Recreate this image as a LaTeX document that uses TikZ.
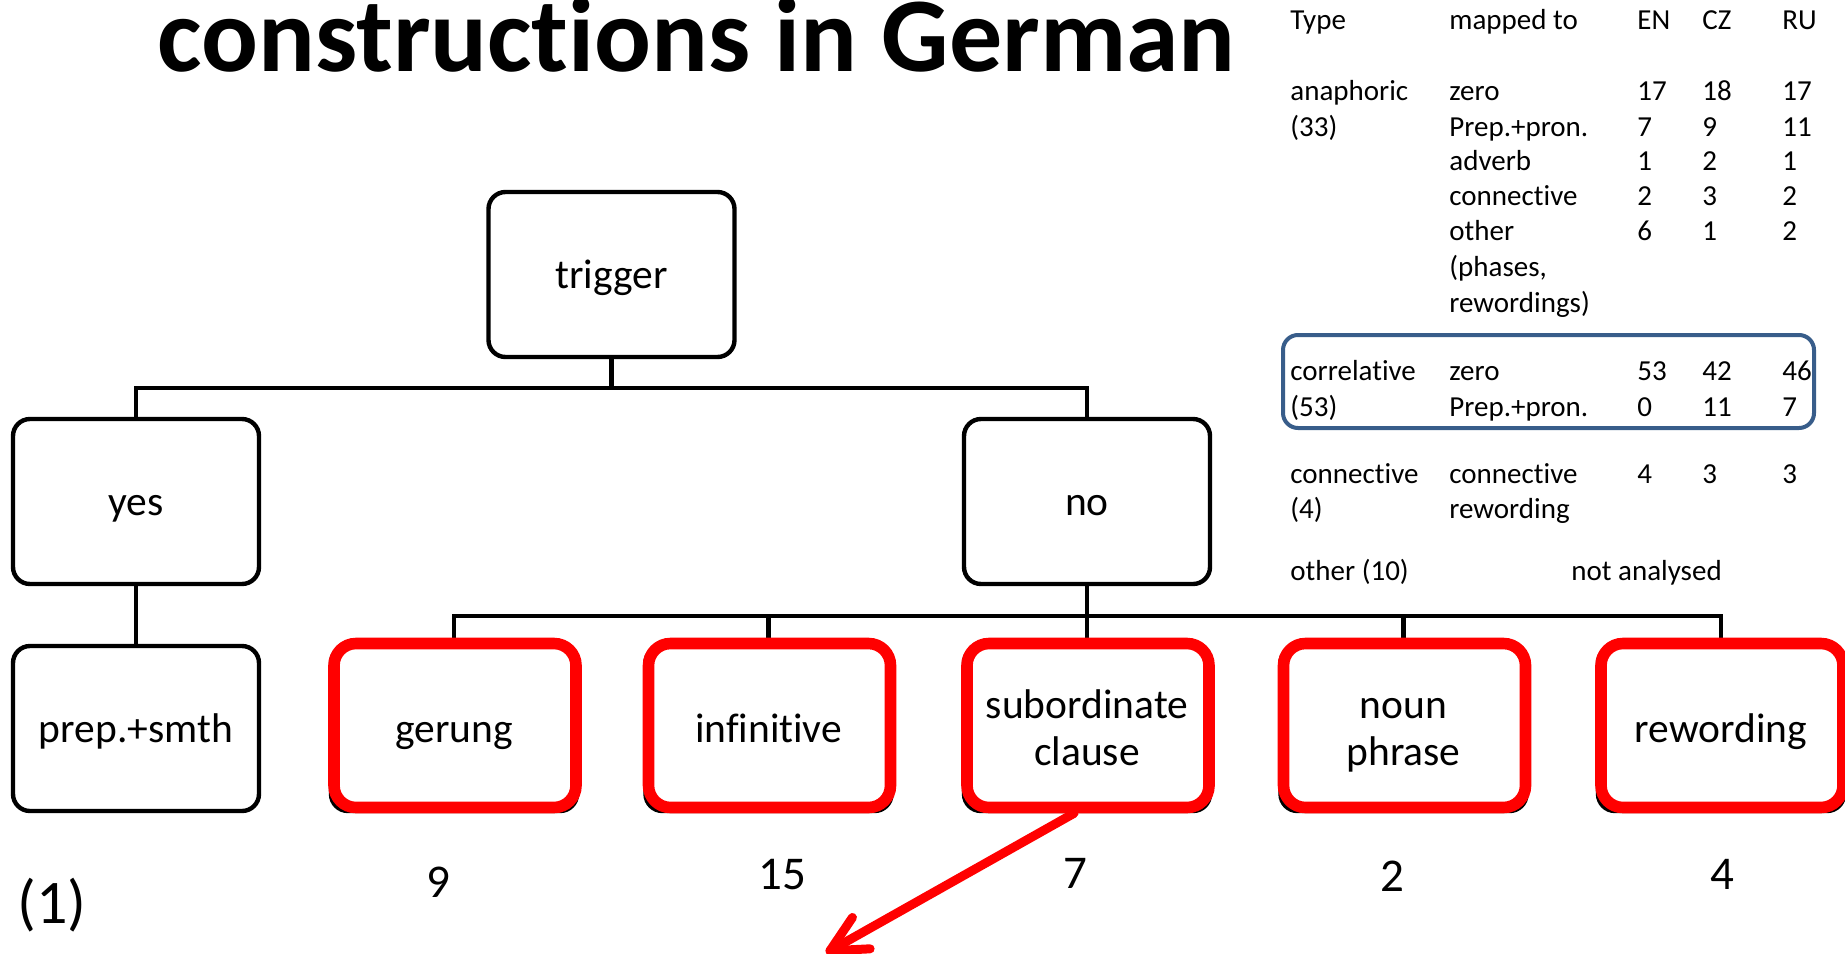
\documentclass[tikz,border=0pt]{standalone}
\usepackage{fontspec}
\setmainfont{Carlito}[Ligatures=NoCommon]
\usetikzlibrary{arrows.meta,calc}
\definecolor{boxblue}{RGB}{56,93,138}
\definecolor{pptred}{RGB}{255,0,0}
\newcommand\bxfont{\fontsize{20.75pt}{23.5pt}\selectfont}
\newcommand\tbfont{\fontsize{14.5pt}{17.5pt}\selectfont}
\newcommand\nmfont{\fontsize{23.5pt}{28pt}\selectfont}
\newcommand\bstrut{\rule[-0.165em]{0pt}{1em}}
\newcommand\topstrut{\rule{0pt}{0.92em}}
\newcommand\botstrut{\rule[-0.25em]{0pt}{0.25em}}
\newcommand\nl{\kern0pt }
\begin{document}
\begin{tikzpicture}[x=0.5pt,y=-0.5pt,
  treebox/.style={draw=black, line width=2.2pt, rounded corners=8.5pt,
    minimum width=123pt, minimum height=82.5pt, inner sep=0pt,
    font=\bxfont, align=center, fill=white},
  redframe/.style={draw=pptred, line width=5.8pt, rounded corners=11pt,
    minimum width=121pt, minimum height=82pt, inner sep=0pt},
  tline/.style={line width=2.2pt},
  tbtext/.style={anchor=base west, inner sep=0pt, font=\tbfont},
  numtext/.style={anchor=base, inner sep=0pt, font=\nmfont},
  redarrow/.style={draw=pptred, line width=4.5pt, line cap=round,
    -{Straight Barb[length=18pt,width=18pt,round]}},
  bluebox/.style={draw=boxblue, line width=2pt, rounded corners=7.5pt,
    minimum width=265.5pt, minimum height=46.5pt, inner sep=0pt}
]
\useasboundingbox (0,0) rectangle (1845,953);

% title
\node[anchor=base west, inner sep=0pt, font=\fontsize{53pt}{60pt}\selectfont\bfseries] (title) at (157,71) {construct\nl ions in German};

% tree boxes
\node[treebox] (trigger) at (611.5,274.5) {\bstrut trigger};
\node[treebox] (yes) at (136,501.5) {\bstrut yes};
\node[treebox] (no) at (1087,501.5) {\bstrut no};
\node[treebox] (prep) at (136,728.5) {\bstrut prep.+smth};
\node[treebox] (gerung) at (454,728.5) {\bstrut gerung};
\node[treebox] (infin) at (768.5,728.5) {\bstrut inf\nl init\nl ive};
\node[treebox] (sub) at (1087,728.5) {\topstrut subordinate\\clause\botstrut};
\node[treebox] (noun) at (1403.5,728.5) {\topstrut noun\\phrase\botstrut};
\node[treebox] (reword) at (1721,728.5) {\bstrut rewording};

% connectors
\coordinate (j1) at (611.5,388);
\coordinate (j2) at (1087,616);
\draw[tline] (trigger.south) -- (j1);
\draw[tline] (yes.north) |- (j1) -| (no.north);
\draw[tline] (yes.south) -- (prep.north);
\draw[tline] (no.south) -- (j2);
\draw[tline] (gerung.north) |- (j2) -| (reword.north);
\draw[tline] (infin.north) -- (infin.north |- j2);
\draw[tline] (noun.north) -- (noun.north |- j2);
\draw[tline] (sub.north) -- (j2);

% red highlight frames
\node[redframe] (gerungR) at ($(gerung)+(1,-3)$) {};
\node[redframe] (infinR) at ($(infin)+(1,-3)$) {};
\node[redframe] (subR) at ($(sub)+(1,-3)$) {};
\node[redframe] (nounR) at ($(noun)+(1,-3)$) {};
\node[redframe] (rewordR) at ($(reword)+(1,-3)$) {};

% counts
\node[numtext] (n9) at (438,897) {9};
\node[numtext] (n15) at (782,889) {15};
\node[numtext] (n7) at (1075,888) {7};
\node[numtext] (n2) at (1392,891) {2};
\node[numtext] (n4) at (1722,889) {4};
\node[anchor=base west, inner sep=0pt, font=\fontsize{31pt}{36pt}\selectfont] (one) at (17,923) {(1)};

% red arrow
\coordinate (arrowtip) at (826,953);
\draw[redarrow] ($(subR.south)+(-14,0)$) -- (arrowtip);

% table
\node[tbtext] (hType) at (1290,29) {Type};
\node[tbtext] (hMap) at (1449,29) {mapped to};
\node[tbtext] (hEN) at (1637,29) {EN};
\node[tbtext] (hCZ) at (1702,29) {CZ};
\node[tbtext] (hRU) at (1782,29) {RU};

\node[tbtext] (a1) at (1290,100) {anaphoric};
\node[tbtext] (a2) at (1449,100) {zero};
\node[tbtext] (a3) at (1637,100) {17};
\node[tbtext] (a4) at (1702,100) {18};
\node[tbtext] (a5) at (1782,100) {17};

\node[tbtext] (b1) at (1290,136) {(33)};
\node[tbtext] (b2) at (1449,136) {Prep.+pron.};
\node[tbtext] (b3) at (1637,136) {7};
\node[tbtext] (b4) at (1702,136) {9};
\node[tbtext] (b5) at (1782,136) {11};

\node[tbtext] (c2) at (1449,170) {adverb};
\node[tbtext] (c3) at (1637,170) {1};
\node[tbtext] (c4) at (1702,170) {2};
\node[tbtext] (c5) at (1782,170) {1};

\node[tbtext] (d2) at (1449,205) {connect\nl ive};
\node[tbtext] (d3) at (1637,205) {2};
\node[tbtext] (d4) at (1702,205) {3};
\node[tbtext] (d5) at (1782,205) {2};

\node[tbtext] (e2) at (1449,240) {other};
\node[tbtext] (e3) at (1637,240) {6};
\node[tbtext] (e4) at (1702,240) {1};
\node[tbtext] (e5) at (1782,240) {2};
\node[tbtext] (f2) at (1449,276) {(phases,};
\node[tbtext] (g2) at (1449,312) {rewordings)};

\node[tbtext] (k1) at (1290,380) {correlat\nl ive};
\node[tbtext] (k2) at (1449,380) {zero};
\node[tbtext] (k3) at (1637,380) {53};
\node[tbtext] (k4) at (1702,380) {42};
\node[tbtext] (k5) at (1782,380) {46};
\node[tbtext] (l1) at (1290,416) {(53)};
\node[tbtext] (l2) at (1449,416) {Prep.+pron.};
\node[tbtext] (l3) at (1637,416) {0};
\node[tbtext] (l4) at (1702,416) {11};
\node[tbtext] (l5) at (1782,416) {7};
\node[bluebox] (corrbox) at (1548.5,381.5) {};

\node[tbtext] (m1) at (1290,483) {connect\nl ive};
\node[tbtext] (m2) at (1449,483) {connect\nl ive};
\node[tbtext] (m3) at (1637,483) {4};
\node[tbtext] (m4) at (1702,483) {3};
\node[tbtext] (m5) at (1782,483) {3};
\node[tbtext] (o1) at (1290,518) {(4)};
\node[tbtext] (o2) at (1449,518) {rewording};

\node[tbtext] (p1) at (1290,580) {other (10)};
\node[tbtext] (p2) at (1571,580) {not analysed};
\end{tikzpicture}
\end{document}
